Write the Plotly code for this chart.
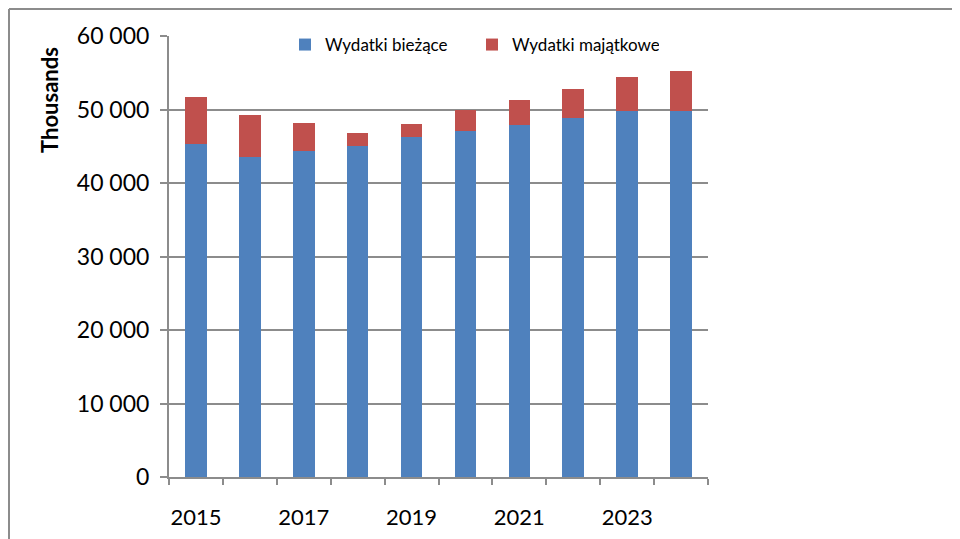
import plotly.graph_objects as go

# yearly spending, thousands
years = ["2015", "2016", "2017", "2018", "2019", "2020", "2021", "2022", "2023", "2024"]
year_labels = ["2015", "", "2017", "", "2019", "", "2021", "", "2023", ""]
biezace = [45350, 43500, 44350, 45000, 46200, 47100, 47900, 48900, 49800, 49800]
majatkowe = [6350, 5750, 3850, 1800, 1800, 2900, 3400, 3900, 4600, 5400]

FONT = "Lato"
GREY = "#8c8c8c"

# page has an 8px body margin, so the figure is drawn 8px smaller
W, H = 952, 531
L, T, PW, PH = 161, 28, 539, 441

fig = go.Figure()
fig.add_trace(go.Bar(x=years, y=biezace, name="Wydatki bieżące",
                     marker=dict(color="#4F81BD", line=dict(width=0))))
fig.add_trace(go.Bar(x=years, y=majatkowe, name="Wydatki majątkowe",
                     marker=dict(color="#C0504D", line=dict(width=0))))

fig.update_layout(
    width=W, height=H,
    barmode="stack", bargap=0.6,
    plot_bgcolor="white", paper_bgcolor="white",
    margin=dict(l=L, r=W - L - PW, t=T, b=H - T - PH),
    font=dict(family=FONT, color="black"),
    legend=dict(orientation="h", x=(277 - L) / PW, y=1 - (37 - T) / PH,
                xanchor="left", yanchor="middle",
                traceorder="normal", font=dict(size=17), itemwidth=30, entrywidth=142,
                bgcolor="rgba(0,0,0,0)"),
    showlegend=True,
)

fig.update_xaxes(
    type="category", tickvals=years, ticktext=year_labels, tickangle=0,
    tickson="boundaries", ticks="outside", ticklen=6, tickcolor=GREY, tickwidth=2,
    showline=True, linecolor=GREY, linewidth=2, automargin=False,
    showgrid=False, tickfont=dict(size=22), ticklabelstandoff=20,
)
fig.update_yaxes(
    range=[0, 60000], tickvals=[0, 10000, 20000, 30000, 40000, 50000, 60000],
    ticktext=["0", "10 000", "20 000", "30 000", "40 000", "50 000", "60 000"],
    ticks="outside", ticklen=7, tickcolor=GREY, tickwidth=2,
    showline=True, linecolor=GREY, linewidth=2, automargin=False,
    showgrid=True, gridcolor=GREY, gridwidth=2, zeroline=False,
    tickfont=dict(size=23), ticklabelstandoff=6,
)

# y axis title sits near the top, as in the source chart
fig.add_annotation(text="<b>Thousands</b>", xref="paper", yref="paper",
                   x=(41 - L) / PW, y=1 - (92 - T) / PH, textangle=-90,
                   showarrow=False, font=dict(size=22), xanchor="center", yanchor="middle")

# outer chart frame (only top and left edges fall inside the picture)
fx = (1 - L) / PW
fy = 1 + (T - 1) / PH
fig.add_shape(type="line", xref="paper", yref="paper", x0=fx, x1=2.0, y0=fy, y1=fy,
              line=dict(color=GREY, width=2))
fig.add_shape(type="line", xref="paper", yref="paper", x0=fx, x1=fx, y0=-1.0, y1=fy,
              line=dict(color=GREY, width=2))

fig.write_html("out.html")
